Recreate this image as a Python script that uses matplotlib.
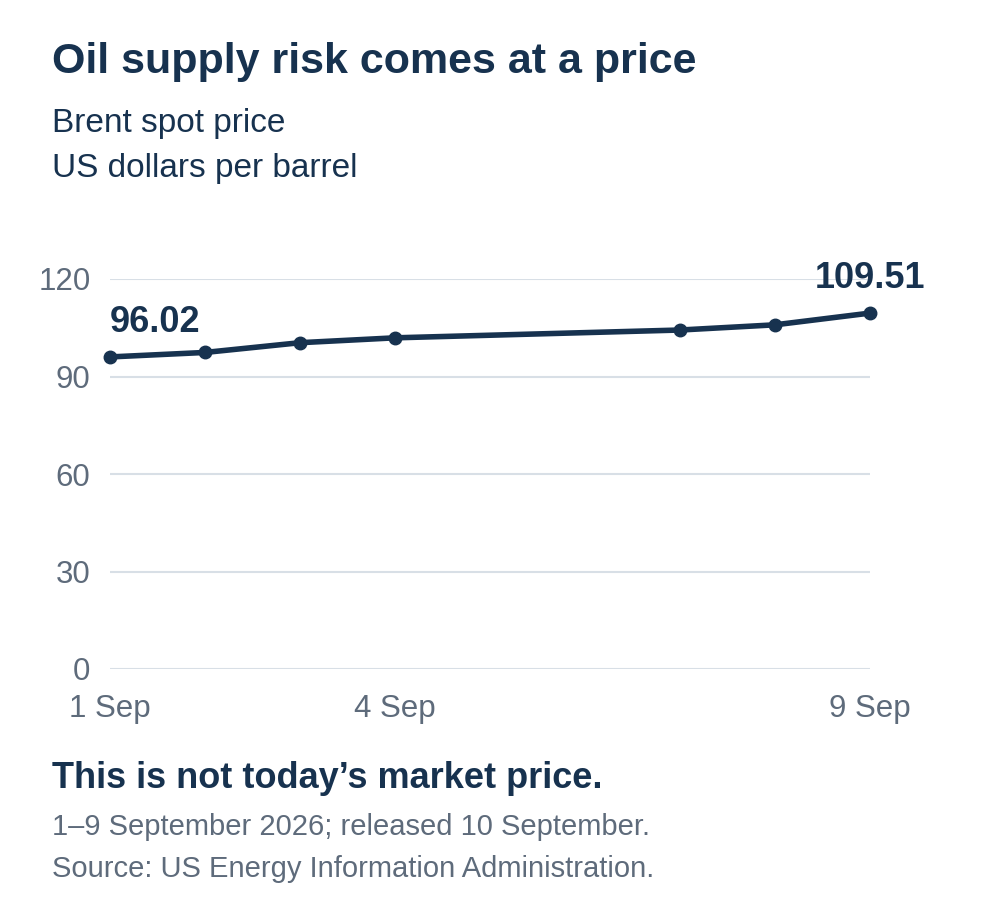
import matplotlib
matplotlib.use("Agg")
import matplotlib.pyplot as plt

plt.rcParams['font.family'] = ['Liberation Sans', 'DejaVu Sans']

# Brent spot price, September 2026
days = [1, 2, 3, 4, 7, 8, 9]
prices = [96.02, 97.4, 100.4, 101.9, 104.3, 105.9, 109.51]
tick_days = [1, 4, 9]
tick_labels = ["1 Sep", "4 Sep", "9 Sep"]
y_ticks = [0, 30, 60, 90, 120]

navy = "#17324f"
grey = "#5e6b7b"
grid = "#d8dfe6"

fig = plt.figure(figsize=(10, 9), dpi=100)
W, H = 1000, 900

# axes box: x 110..870 px, y 279..669 px
ax = fig.add_axes([110 / W, 1 - 669 / H, 760 / W, 390 / H])
ax.set_xlim(1, 9)
ax.set_ylim(0, 120)

for yv in y_ticks:
    ax.axhline(yv, color=grid, lw=1.5, zorder=1)

ax.plot(days, prices, color=navy, lw=4, marker="o", markersize=9,
        solid_capstyle="round", clip_on=False, zorder=3)

# end labels
ax.annotate(f"{prices[0]:.2f}", (days[0], prices[0]), xytext=(0, 12),
            textcoords="offset points", ha="left", va="bottom",
            fontsize=26, fontweight="bold", color=navy)
ax.annotate(f"{prices[-1]:.2f}", (days[-1], prices[-1]), xytext=(0, 12),
            textcoords="offset points", ha="center", va="bottom",
            fontsize=26, fontweight="bold", color=navy)

ax.set_yticks(y_ticks)
ax.set_yticklabels([str(v) for v in y_ticks])
ax.set_xticks(tick_days)
ax.set_xticklabels(tick_labels)
ax.tick_params(axis="y", length=0, pad=14, labelsize=22.5, labelcolor=grey)
ax.tick_params(axis="x", length=0, pad=18, labelsize=22.5, labelcolor=grey)
for s in ax.spines.values():
    s.set_visible(False)

# titles and notes
fig.text(52 / W, 1 - 73 / H, "Oil supply risk comes at a price",
         fontsize=31, fontweight="bold", color=navy, va="baseline")
fig.text(52 / W, 1 - 132 / H, "Brent spot price",
         fontsize=24, color=navy, va="baseline")
fig.text(52 / W, 1 - 177 / H, "US dollars per barrel",
         fontsize=24, color=navy, va="baseline")
fig.text(52 / W, 1 - 788 / H, "This is not today\u2019s market price.",
         fontsize=26, fontweight="bold", color=navy, va="baseline")
fig.text(52 / W, 1 - 835 / H, "1\u20139 September 2026; released 10 September.",
         fontsize=21, color=grey, va="baseline")
fig.text(52 / W, 1 - 877 / H, "Source: US Energy Information Administration.",
         fontsize=21, color=grey, va="baseline")

fig.savefig("out.png", dpi=100, facecolor="white")
